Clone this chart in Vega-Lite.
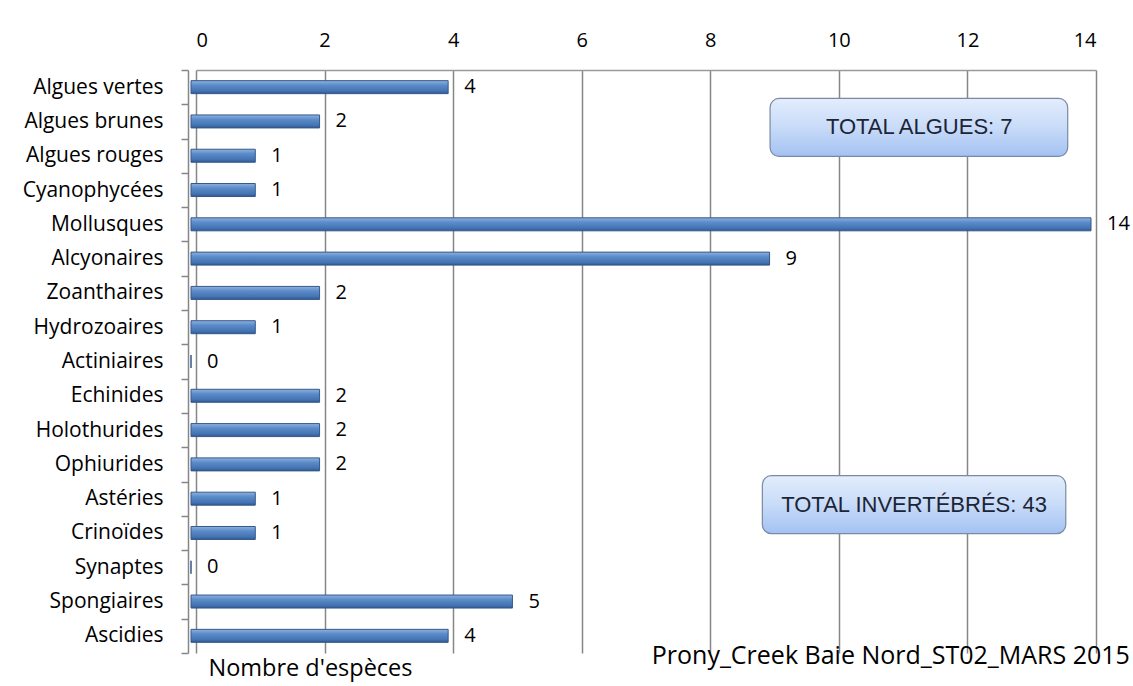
{
  "$schema": "https://vega.github.io/schema/vega-lite/v6.json",
  "width": 1133,
  "height": 686,
  "autosize": {"type": "fit", "contains": "padding"},
  "padding": {"left": 22, "top": 30, "right": 3, "bottom": 6},
  "background": "white",
  "config": {"font": "Open Sans", "view": {"stroke": null}},
  "title": {
    "text": "Prony_Creek Baie Nord_ST02_MARS 2015",
    "orient": "bottom",
    "anchor": "end",
    "fontSize": 25,
    "fontWeight": "normal",
    "color": "#000000",
    "offset": -36,
    "dx": 0
  },
  "datasets": {
    "main": [
      {"groupe": "Algues vertes", "n": 4},
      {"groupe": "Algues brunes", "n": 2},
      {"groupe": "Algues rouges", "n": 1},
      {"groupe": "Cyanophycées", "n": 1},
      {"groupe": "Mollusques", "n": 14},
      {"groupe": "Alcyonaires", "n": 9},
      {"groupe": "Zoanthaires", "n": 2},
      {"groupe": "Hydrozoaires", "n": 1},
      {"groupe": "Actiniaires", "n": 0},
      {"groupe": "Echinides", "n": 2},
      {"groupe": "Holothurides", "n": 2},
      {"groupe": "Ophiurides", "n": 2},
      {"groupe": "Astéries", "n": 1},
      {"groupe": "Crinoïdes", "n": 1},
      {"groupe": "Synaptes", "n": 0},
      {"groupe": "Spongiaires", "n": 5},
      {"groupe": "Ascidies", "n": 4}
    ],
    "boxes": [
      {"groupe": "Algues brunes", "x0": 8.93, "x1": 13.56, "xc": 11.25, "label": "TOTAL ALGUES:  7"},
      {"groupe": "Astéries", "x0": 8.81, "x1": 13.53, "xc": 11.17, "label": "TOTAL INVERTÉBRÉS:  43"}
    ]
  },
  "resolve": {"axis": {"x": "independent"}},
  "layer": [
    {
      "data": {"name": "main"},
      "mark": {
        "type": "bar",
        "height": 13,
        "xOffset": -5,
        "stroke": "#34598a",
        "strokeWidth": 1,
        "fill": {
          "gradient": "linear",
          "x1": 0, "y1": 0, "x2": 0, "y2": 1,
          "stops": [
            {"offset": 0, "color": "#8fb2e0"},
            {"offset": 0.35, "color": "#5b8bc9"},
            {"offset": 0.8, "color": "#4473b2"},
            {"offset": 1, "color": "#2f5790"}
          ]
        }
      },
      "encoding": {
        "y": {
          "field": "groupe",
          "type": "nominal",
          "sort": null,
          "scale": {"paddingInner": 0, "paddingOuter": 0},
          "axis": {
            "title": null,
            "labelFontSize": 21,
            "labelColor": "#000000",
            "labelPadding": 18,
            "domainColor": "#868686",
            "domainWidth": 1.5,
            "tickColor": "#868686",
            "tickWidth": 1.5,
            "tickBand": "extent",
            "tickSize": 7,
            "offset": 8
          }
        },
        "x": {
          "field": "n",
          "type": "quantitative",
          "scale": {"domain": [0, 14], "nice": false},
          "axis": {
            "orient": "top",
            "title": null,
            "values": [0, 2, 4, 6, 8, 10, 12, 14],
            "labelFontSize": 20,
            "labelColor": "#000000",
            "labelPadding": 20,
            "ticks": false,
            "domain": true,
            "domainColor": "#9a9a9a",
            "domainWidth": 1.5,
            "grid": true,
            "gridColor": "#868686",
            "gridWidth": 1.5
          }
        }
      }
    },
    {
      "data": {"name": "main"},
      "mark": {"type": "text", "align": "left", "baseline": "middle", "dx": 11, "fontSize": 20, "color": "#000000"},
      "encoding": {
        "y": {"field": "groupe", "type": "nominal", "sort": null},
        "x": {
          "field": "n",
          "type": "quantitative",
          "axis": {
            "orient": "bottom",
            "title": "Nombre d'espèces",
            "titleFontSize": 23.5,
            "titleFontWeight": "normal",
            "titleColor": "#000000",
            "titleAnchor": "start",
            "titleAlign": "left",
            "titleX": 12,
            "titlePadding": 3,
            "labels": false,
            "ticks": false,
            "domain": false,
            "grid": false
          }
        },
        "text": {"field": "n", "type": "quantitative"}
      }
    },
    {
      "data": {"name": "boxes"},
      "mark": {
        "type": "bar",
        "height": 58,
        "yOffset": 6,
        "cornerRadius": 9,
        "stroke": "#7a8aa3",
        "strokeWidth": 1.2,
        "fill": {
          "gradient": "linear",
          "x1": 0, "y1": 0, "x2": 0, "y2": 1,
          "stops": [
            {"offset": 0, "color": "#e3edfc"},
            {"offset": 0.5, "color": "#c8dbf8"},
            {"offset": 1, "color": "#a3c2f2"}
          ]
        }
      },
      "encoding": {
        "y": {"field": "groupe", "type": "nominal", "sort": null},
        "x": {"field": "x0", "type": "quantitative", "axis": null},
        "x2": {"field": "x1"}
      }
    },
    {
      "data": {"name": "boxes"},
      "mark": {"type": "text", "align": "center", "baseline": "middle", "yOffset": 6, "fontSize": 22, "letterSpacing": 0.8, "font": "Liberation Sans", "color": "#1c2436"},
      "encoding": {
        "y": {"field": "groupe", "type": "nominal", "sort": null},
        "x": {"field": "xc", "type": "quantitative", "axis": null},
        "text": {"field": "label"}
      }
    }
  ]
}
